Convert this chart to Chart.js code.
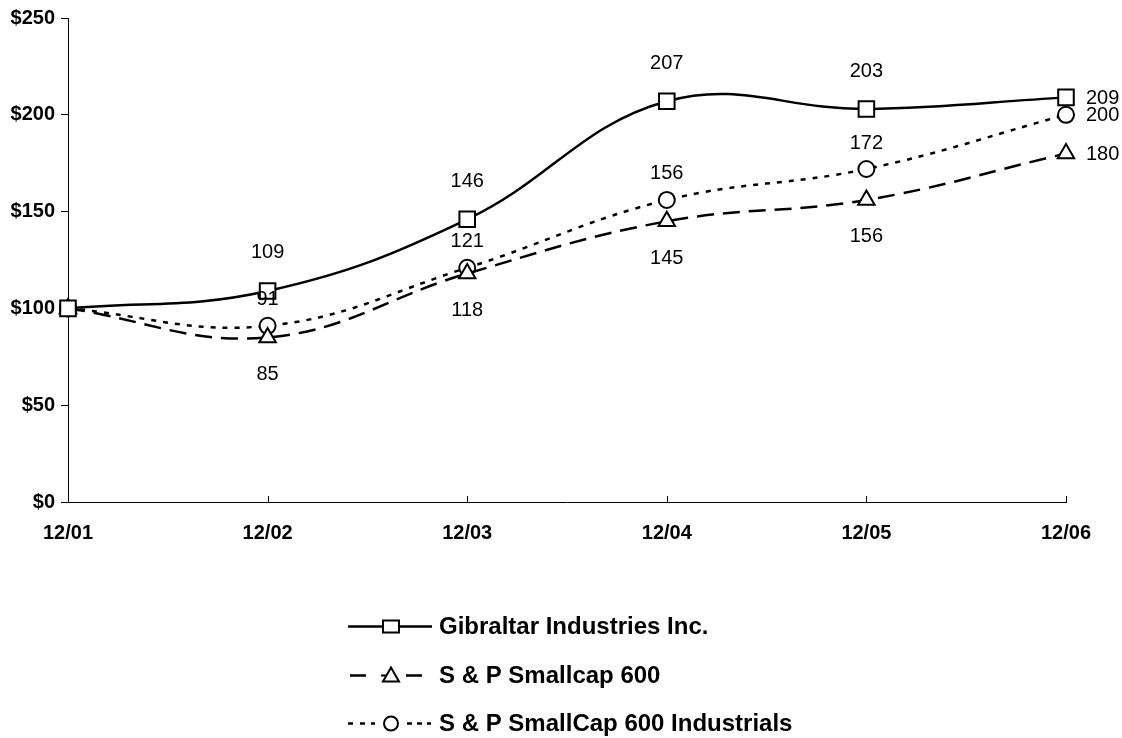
<!DOCTYPE html>
<html>
<head>
<meta charset="utf-8">
<script src="https://cdn.jsdelivr.net/npm/chart.js@4"></script>
<style>
  html, body { margin: 0; padding: 0; background: #fff; }
  #wrap { width: 1122px; height: 738px; }
</style>
</head>
<body>
<div id="wrap"><canvas id="perfChart" width="1122" height="738"></canvas></div>
<script>
// Chart data
const periods = ['12/01', '12/02', '12/03', '12/04', '12/05', '12/06'];
const gibraltar = [100, 109, 146, 207, 203, 209];
const smallcap600 = [100, 85, 118, 145, 156, 180];
const smallcapIndustrials = [100, 91, 121, 156, 172, 200];
const yTicks = [0, 50, 100, 150, 200, 250];

const seriesNames = ['Gibraltar Industries Inc.', 'S & P Smallcap 600', 'S & P SmallCap 600 Industrials'];

const FONT = '"Liberation Sans", Arial, sans-serif';

// Label placement per series: offset above/below, last point goes to the right
const labelOffsets = [-38, 37, -26];

// Draws the value labels next to each point (skipping the starting 100)
const valueLabels = {
  id: 'valueLabels',
  afterDatasetsDraw(chart) {
    const ctx = chart.ctx;
    ctx.save();
    ctx.font = '20px ' + FONT;
    ctx.fillStyle = '#000';
    ctx.textBaseline = 'middle';
    chart.data.datasets.forEach((ds, i) => {
      const meta = chart.getDatasetMeta(i);
      meta.data.forEach((pt, j) => {
        if (j === 0) return;
        const last = j === meta.data.length - 1;
        if (last) {
          ctx.textAlign = 'left';
          ctx.fillText(ds.data[j], pt.x + 20, pt.y + 1);
        } else {
          ctx.textAlign = 'center';
          ctx.fillText(ds.data[j], pt.x, pt.y + labelOffsets[i]);
        }
      });
    });
    ctx.restore();
  }
};

// Inward tick marks on the x axis
const xTickMarks = {
  id: 'xTickMarks',
  afterDraw(chart) {
    const ctx = chart.ctx;
    const xs = chart.scales.x;
    const bottom = chart.chartArea.bottom;
    ctx.save();
    ctx.strokeStyle = '#000';
    ctx.lineWidth = 1;
    xs.ticks.forEach((t, i) => {
      const x = Math.round(xs.getPixelForTick(i)) + 0.5;
      ctx.beginPath();
      ctx.moveTo(x, bottom);
      ctx.lineTo(x, bottom - 6);
      ctx.stroke();
    });
    ctx.restore();
  }
};

// Legend drawn below the chart: line sample pieces, marker, name
const legendRows = [626, 675, 723];
const legendPieces = [
  [[348, 432]],
  [[350, 366], [406, 422]],
  [[348, 353], [360, 365], [371, 375], [407, 412], [417, 422], [427, 431]]
];
const lineLegend = {
  id: 'lineLegend',
  afterDraw(chart) {
    const ctx = chart.ctx;
    ctx.save();
    chart.data.datasets.forEach((ds, i) => {
      const y = legendRows[i] + 0.5;
      const mx = 391;
      ctx.strokeStyle = '#000';
      ctx.lineWidth = 2.5;
      ctx.beginPath();
      legendPieces[i].forEach(p => {
        ctx.moveTo(p[0], y);
        ctx.lineTo(p[1], y);
      });
      ctx.stroke();
      // marker
      ctx.lineWidth = 2;
      ctx.fillStyle = '#fff';
      if (ds.pointStyle === 'rect') {
        ctx.fillRect(mx - 8, y - 6, 16, 12);
        ctx.strokeRect(mx - 8, y - 6, 16, 12);
      } else if (ds.pointStyle === 'triangle') {
        ctx.beginPath();
        ctx.moveTo(mx, y - 8);
        ctx.lineTo(mx + 8, y + 6);
        ctx.lineTo(mx - 8, y + 6);
        ctx.closePath();
        ctx.fill();
        ctx.stroke();
        // short stroke crossing the triangle, as in the original legend
        ctx.beginPath();
        ctx.moveTo(mx - 10, y);
        ctx.lineTo(mx - 4, y);
        ctx.stroke();
      } else {
        ctx.beginPath();
        ctx.arc(mx, y, 7, 0, Math.PI * 2);
        ctx.fill();
        ctx.stroke();
      }
      ctx.fillStyle = '#000';
      ctx.font = 'bold 24px ' + FONT;
      ctx.textAlign = 'left';
      ctx.textBaseline = 'middle';
      ctx.fillText(seriesNames[i], 439, y + 1);
    });
    ctx.restore();
  }
};

function makeDataset(label, data, dash, style, radius) {
  return {
    label: label,
    data: data,
    borderColor: '#000',
    borderWidth: 2.5,
    borderDash: dash,
    tension: 0.4,
    fill: false,
    pointStyle: style,
    pointRadius: radius,
    pointBorderWidth: 2,
    pointBorderColor: '#000',
    pointBackgroundColor: '#fff'
  };
}

const ctx = document.getElementById('perfChart').getContext('2d');
new Chart(ctx, {
  type: 'line',
  data: {
    labels: periods,
    datasets: [
      makeDataset(seriesNames[0], gibraltar, [], 'rect', 11),
      makeDataset(seriesNames[1], smallcap600, [17, 9], 'triangle', 9.5),
      makeDataset(seriesNames[2], smallcapIndustrials, [5, 7], 'circle', 8)
    ]
  },
  options: {
    responsive: false,
    animation: false,
    layout: { padding: { top: 18, right: 56, bottom: 186, left: 0 } },
    plugins: {
      legend: { display: false },
      tooltip: { enabled: false }
    },
    scales: {
      x: {
        offset: false,
        grid: { display: false },
        border: { color: '#000', width: 1 },
        ticks: {
          color: '#000',
          padding: 11,
          maxRotation: 0,
          font: { family: FONT, size: 20, weight: 'bold' }
        },
        afterFit(scale) { scale.height = 50; }
      },
      y: {
        min: 0,
        max: 250,
        afterBuildTicks(scale) { scale.ticks = yTicks.map(v => ({ value: v })); },
        grid: { drawOnChartArea: false, tickLength: 7, color: '#000' },
        border: { color: '#000', width: 1 },
        ticks: {
          color: '#000',
          padding: 6,
          callback: v => '$' + v,
          font: { family: FONT, size: 20, weight: 'bold' }
        },
        afterFit(scale) { scale.width = 68; }
      }
    }
  },
  plugins: [valueLabels, xTickMarks, lineLegend]
});
</script>
</body>
</html>
